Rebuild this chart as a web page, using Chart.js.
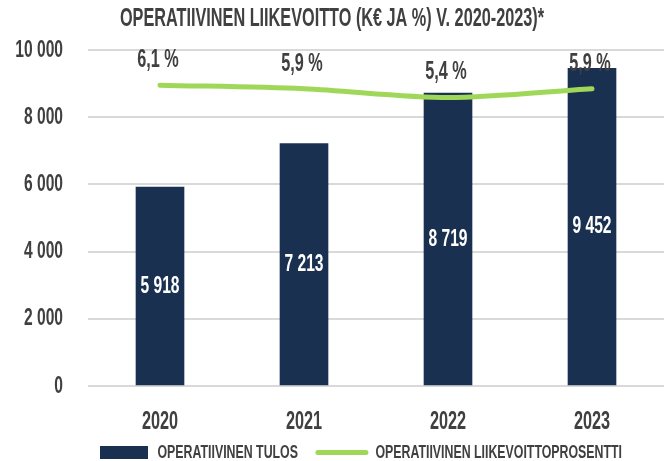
<!DOCTYPE html>
<html lang="fi">
<head>
<meta charset="utf-8">
<title>Operatiivinen liikevoitto</title>
<script src="https://cdn.jsdelivr.net/npm/chart.js@4.4.1/dist/chart.umd.min.js"></script>
<style>
  html, body { margin: 0; padding: 0; background: #fff; }
  #wrap { width: 664px; height: 461px; position: relative; }
</style>
</head>
<body>
<div id="wrap"><canvas id="chart"></canvas></div>
<script>
// data
const years = ["2020", "2021", "2022", "2023"];
const tulos = [5918, 7213, 8719, 9452];        // k€
const prosentti = [6.1, 5.9, 5.4, 5.9];        // %
const titleText = "OPERATIIVINEN LIIKEVOITTO (K€ JA %) V. 2020-2023)*";
const tulosLabel = "OPERATIIVINEN TULOS";
const prosenttiLabel = "OPERATIIVINEN LIIKEVOITTOPROSENTTI";

const FONT = "'Liberation Sans', Arial, sans-serif";
const TEXT = "#404040";
const NAVY = "#1a3050";
const GREEN = "#9fd858";

const fmt = v => v.toLocaleString("fi-FI");
const pct = v => v.toLocaleString("fi-FI", { minimumFractionDigits: 1 }) + "\u00a0%";

// no condensed face is installed, so squeeze the canvas text horizontally
const canvas = document.getElementById("chart");
const c2d = canvas.getContext("2d");
const SQUEEZE = 0.65;
const rawFill = c2d.fillText.bind(c2d);
const rawMeasure = c2d.measureText.bind(c2d);
c2d.fillText = function (text, x, y, maxWidth) {
    this.save();
    this.translate(x, y);
    this.scale(SQUEEZE, 1);
    if (maxWidth === undefined) rawFill(text, 0, 0);
    else rawFill(text, 0, 0, maxWidth / SQUEEZE);
    this.restore();
};
c2d.measureText = function (text) {
    const m = rawMeasure(text);
    return {
        width: m.width * SQUEEZE,
        actualBoundingBoxAscent: m.actualBoundingBoxAscent,
        actualBoundingBoxDescent: m.actualBoundingBoxDescent
    };
};

// white totals inside the bars, percentages above the line
const valueLabels = {
    id: "valueLabels",
    afterDatasetsDraw(chart) {
        const ctx = chart.ctx;
        ctx.save();
        ctx.textAlign = "center";
        ctx.textBaseline = "middle";
        ctx.font = "bold 24px " + FONT;
        chart.getDatasetMeta(0).data.forEach((bar, i) => {
            ctx.fillStyle = "#fff";
            ctx.fillText(fmt(tulos[i]), bar.x, (bar.y + bar.base) / 2);
        });
        ctx.font = "bold 25px " + FONT;
        chart.getDatasetMeta(1).data.forEach((pt, i) => {
            ctx.fillStyle = TEXT;
            ctx.fillText(pct(prosentti[i]), pt.x - 2, pt.y - 25);
        });
        ctx.restore();
    }
};

// legend sits a bit right of centre and tucked up under the axis labels
// (legend clips to its own box, so only the top edge moves)
const legendShift = {
    id: "legendShift",
    afterLayout(chart) {
        const lg = chart.legend;
        lg.left += 29;
        lg.right += 29;
        lg.top -= 8;
    }
};

new Chart(canvas, {
    data: {
        labels: years,
        datasets: [
            {
                type: "bar",
                label: tulosLabel,
                data: tulos,
                backgroundColor: NAVY,
                barThickness: 48,
                yAxisID: "y",
                order: 1
            },
            {
                type: "line",
                label: prosenttiLabel,
                data: prosentti,
                borderColor: GREEN,
                backgroundColor: GREEN,
                borderWidth: 5,
                borderCapStyle: "round",
                pointRadius: 0,
                tension: 0.3,
                yAxisID: "y1",
                order: 0
            }
        ]
    },
    options: {
        responsive: true,
        maintainAspectRatio: false,
        animation: false,
        layout: { padding: 0 },
        scales: {
            x: {
                grid: { display: false },
                border: { display: false },
                ticks: {
                    color: TEXT,
                    padding: 13,
                    font: { family: FONT, size: 25, weight: "bold" }
                },
                afterFit: s => { s.height = 45; }
            },
            y: {
                min: 0,
                max: 10000,
                ticks: {
                    stepSize: 2000,
                    color: TEXT,
                    padding: 25,
                    font: { family: FONT, size: 24, weight: "bold" },
                    callback: v => fmt(v)
                },
                grid: { color: "#d9d9d9", lineWidth: 2, drawTicks: false },
                border: { display: false },
                afterFit: s => { s.width = 88; }
            },
            y1: {
                display: false,
                min: -11,
                max: 8.1
            }
        },
        plugins: {
            title: {
                display: true,
                text: titleText,
                color: TEXT,
                font: { family: FONT, size: 25, weight: "bold" },
                padding: { top: 4, bottom: 16 }
            },
            legend: {
                position: "bottom",
                maxHeight: 30,
                labels: {
                    usePointStyle: true,
                    pointStyleWidth: 48,
                    boxHeight: 13,
                    padding: 20,
                    color: TEXT,
                    font: { family: FONT, size: 19, weight: "bold" },
                    generateLabels: chart => chart.data.datasets.map((ds, i) => ({
                        text: ds.label,
                        fillStyle: ds.type === "line" ? ds.borderColor : ds.backgroundColor,
                        strokeStyle: ds.type === "line" ? ds.borderColor : ds.backgroundColor,
                        lineWidth: ds.type === "line" ? 5 : 0,
                        lineCap: "round",
                        pointStyle: ds.type === "line" ? "line" : "rect",
                        fontColor: TEXT,
                        hidden: false,
                        datasetIndex: i
                    }))
                }
            },
            tooltip: { enabled: false }
        }
    },
    plugins: [valueLabels, legendShift]
});
</script>
</body>
</html>
